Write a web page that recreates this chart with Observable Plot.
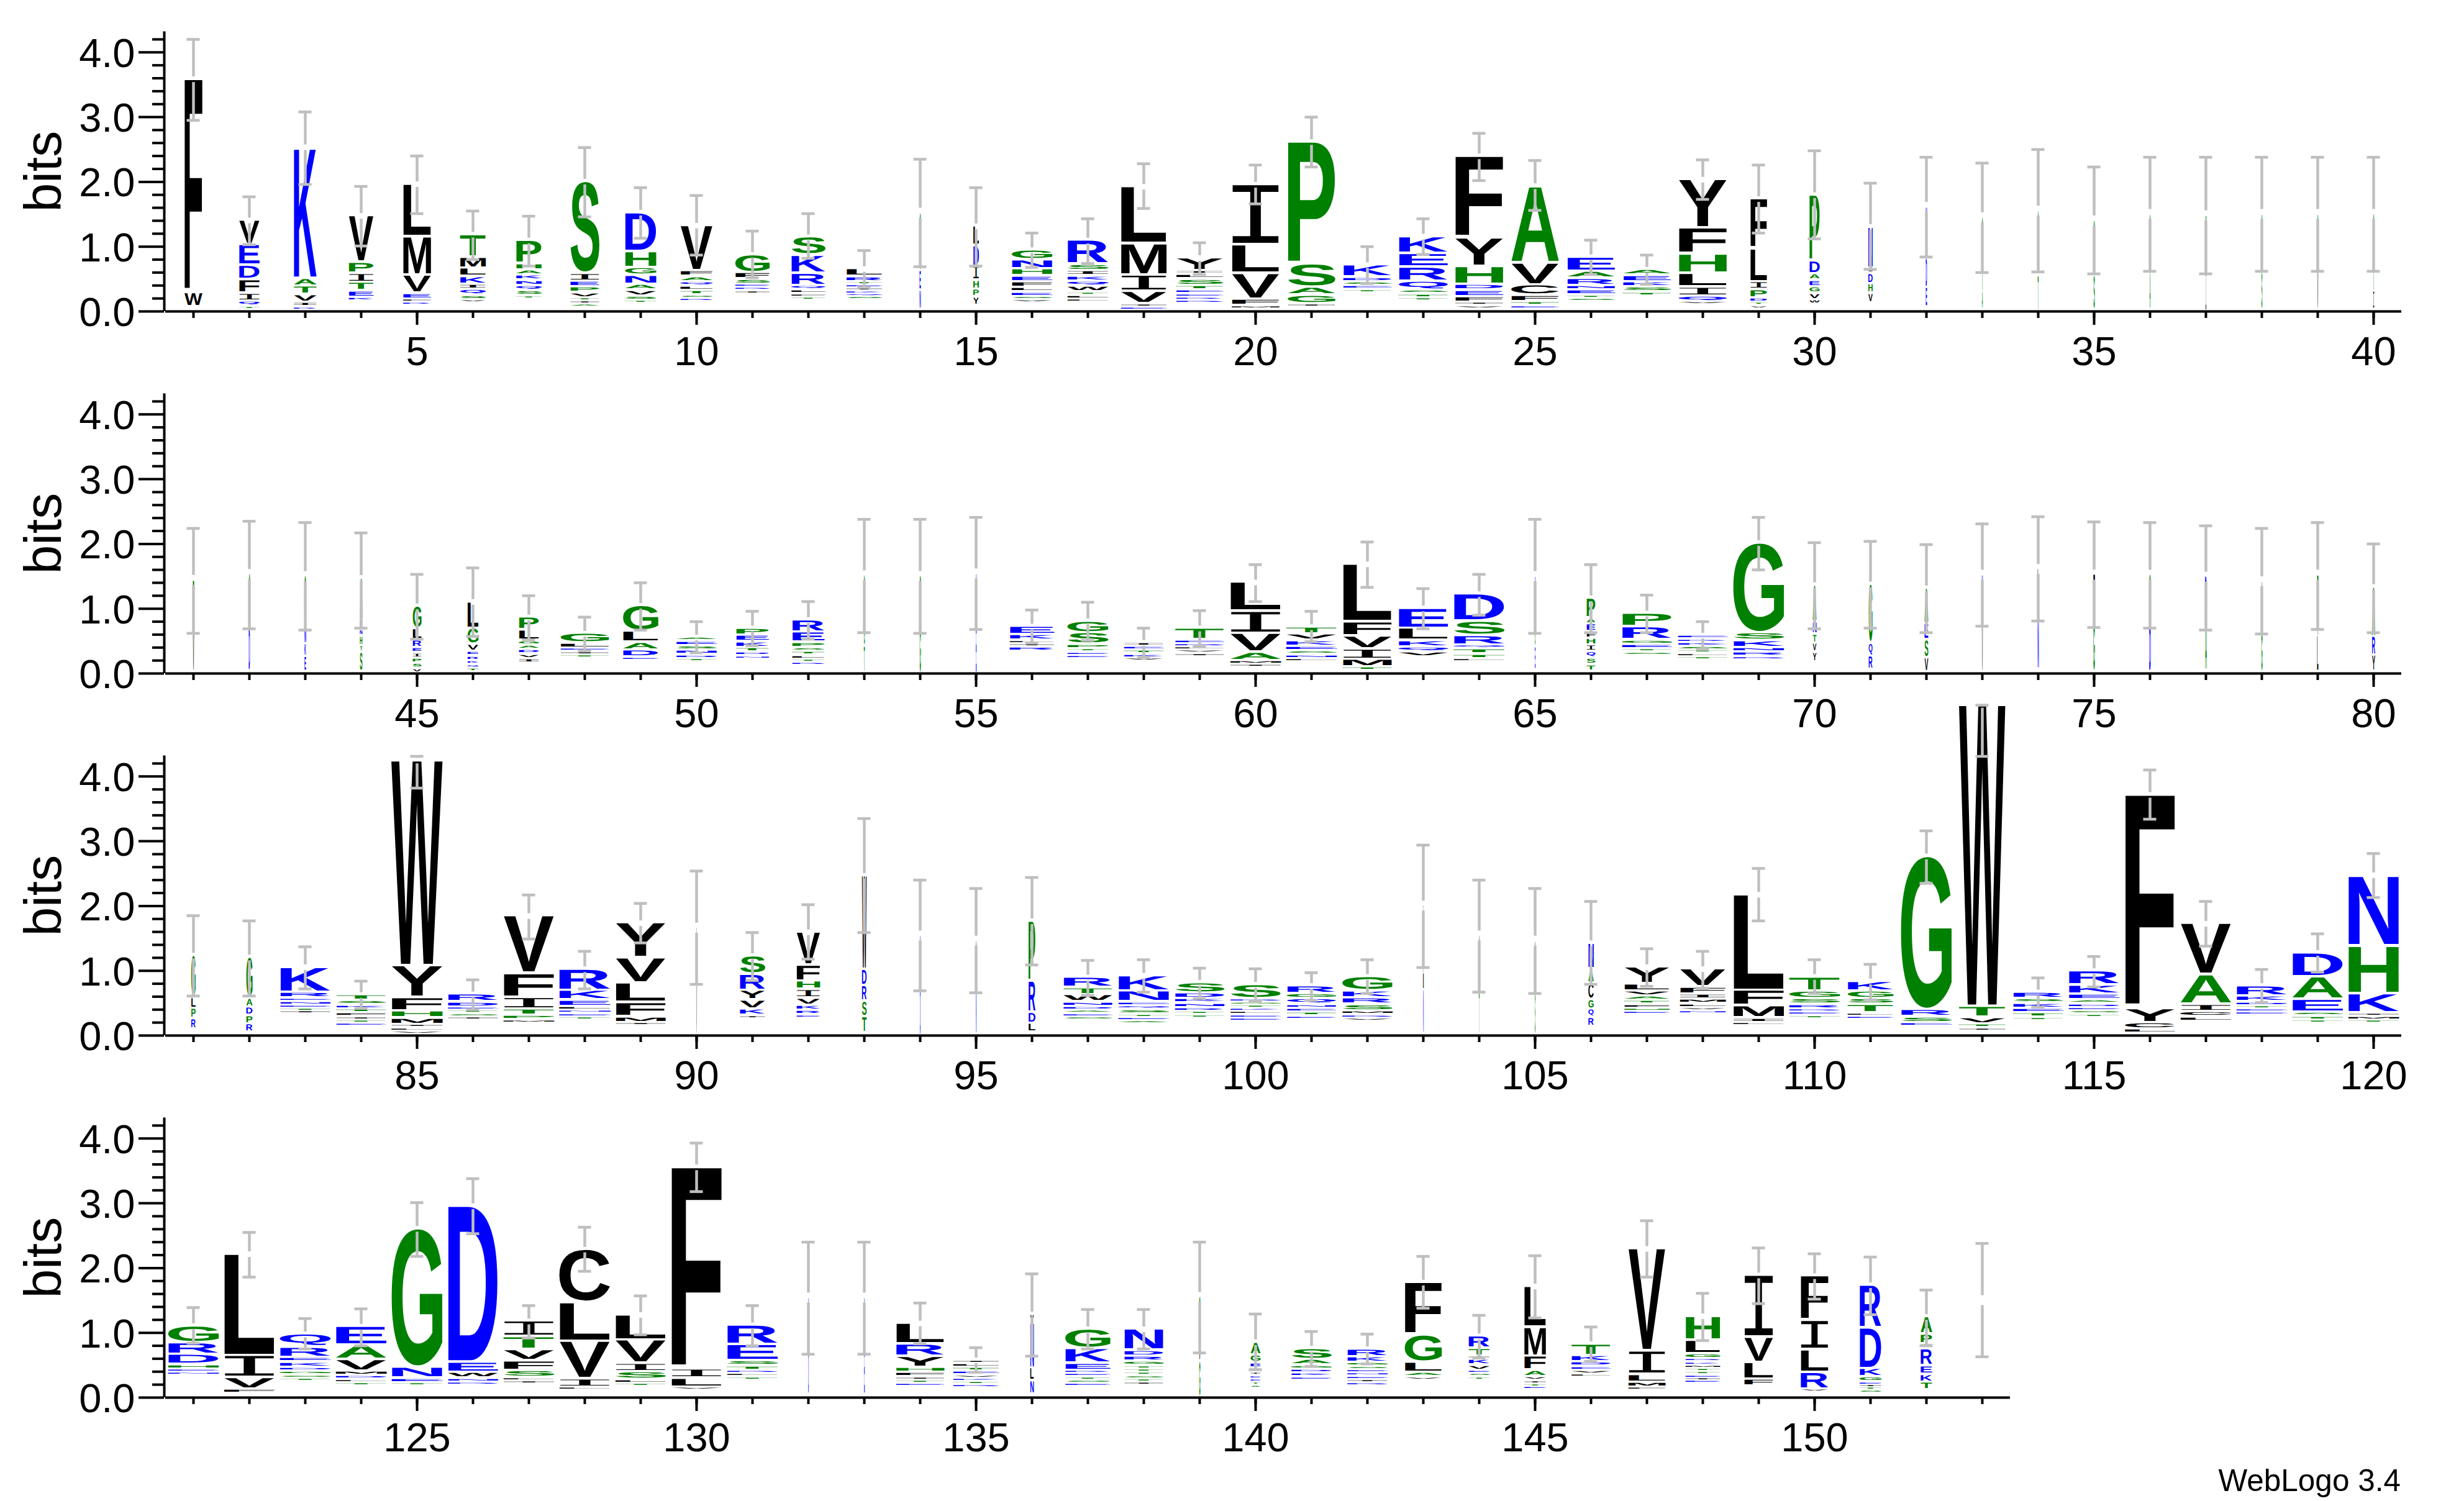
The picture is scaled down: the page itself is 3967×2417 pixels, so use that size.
<!DOCTYPE html>
<html>
<head>
<meta charset="utf-8">
<script src="https://cdn.jsdelivr.net/npm/d3@7"></script>
<script src="https://cdn.jsdelivr.net/npm/@observablehq/plot@0.6"></script>
<style>
html,body{margin:0;padding:0;background:#fff;}
#credit{font-family:"Liberation Sans";font-size:49.5px;line-height:60px;text-align:right;padding-right:102px;margin-top:22px;color:#000;}
</style>
</head>
<body>
<div id="chart"></div>
<div id="credit">WebLogo 3.4</div>
<script>
// letter stacks, top to bottom: letter + height in bits (positions 1 to 153)
const stackLetters = [
"F3.3 W.22","V.38 E.32 D.22 F.21 I.12 Q.08 T.04","K2.03 A.12 T.13 V.12 I.07 R.05","V.72 P.17 I.14 T.13 E.10 K.06","L.81 M.60 V.28 E.09 F.05 R.04",
"T.35 M.17 L.13 K.12 I.08 Q.09 S.07 V.04","P.36 H.10 A.08 K.08 N.08 Q.08 S.08 T.05","S1.42 I.12 E.09 P.09 V.08 T.05 I.04 A.04","D.60 H.25 G.12 N.14 A.09 V.09 S.07 T.05","V.70 F.09 A.08 Q.07 L.07 T.07 S.05 D.05",
"G.28 F.10 S.08 E.05 D.05 I.05","S.28 K.28 R.19 Q.07 L.06 F.05 T.04","L.12 R.08 T.05 E.05 I.04 K.04 Q.05 S.05","G.90 E.30 N.30","L.30 D.32 I.22 H.14 P.12 Y.13",
"G.15 N.14 H.11 E.09 F.09 L.07 E.07 S.05 V.05","R.37 S.10 I.08 K.08 Q.08 W.09 T.05 L.06 L.05","L.88 M.49 I.25 V.19 I.05 E.04","Y.20 I.06 L.07 S.10 T.07 E.06 E.05 R.05 D.05","I.93 L.44 V.40 F.10 M.05",
"P1.89 S.36 A.12 G.13 I.05","K.19 D.07 S.06 E.06 T.05","K.26 E.21 R.22 Q.14 S.06 T.06 T.05","F1.26 Y.44 H.28 D.09 E.10 F.09 I.05 V.04","A1.19 V.34 C.16 F.10 T.06 E.05",
"E.22 A.11 R.11 N.07 E.08 T.05 S.05","A.09 E.10 K.08 S.08 T.06","Y.75 F.40 H.30 L.21 I.14 Q.09 V.05","F.77 L.51 I.12 P.13 D.07 T.05 V.04","P1.02 D.20 A.10 E.10 G.10 V.10 W.07",
"N.64 I.08 D.16 H.15 V.15","N.80 D.45 E.30","G.80 T.35 A.28","G1.00 T.55","G.85 S.53",
"G.90 A.58","T.85 I.63","G.90 S.58","G.85 V.63","G.80 T.40 I.28",
// 41-80
"T.80 V.62","G.85 D.65","G.80 N.25 K.20 E.23","A.65 E.15 N.10 H.15 T.10 S.30","G.35 L.17 R.12 E.08 I.08 P.08 S.08 V.07",
"L.41 G.25 V.11 E.07 R.07 K.06 Q.06 T.06","P.20 L.16 G.07 A.07 D.07 V.07 I.07","G.15 L.08 E.05 I.05 T.05","G.40 L.17 A.12 D.11 E.05","A.06 E.07 S.07 N.07 D.06 T.05",
"P.11 E.10 K.09 T.07 D.06 N.05","R.19 E.16 P.08 S.06 T.06 L.06 T.05 D.05","S.70 G.40 T.40","S.80 G.70",
"N.80 E.74","E.13 K.09 L.05 I.05 R.07","G.18 S.18 P.07 T.05 E.05 E.05","I.06 E.06 T.06 K.06 V.05","T.18 E.06 D.05 L.05 V.05 I.05",
"L.45 I.34 V.29 A.13 M.06 I.05","T.11 V.10 K.09 E.07 S.06 N.06 L.05","L.89 F.22 V.20 I.16 M.12 T.06","E.31 L.19 K.10 Q.08 V.08","D.42 S.22 R.15 Q.06 T.08 T.07 L.05",
"N.70 G.40 E.35","P.31 A.09 E.12 F.10 H.11 I.10 Q.10 S.10 T.10","P.21 R.20 G.07 E.07 T.05 S.05","E.06 R.05 K.06 S.06 T.05 L.05 T.05","G1.39 S.12 K.11 N.07 R.07 D.05",
"A.57 N.19 T.14 V.14 Y.15","G.91 Q.20 R.21","A.55 E.25 S.28 V.22","N.75 V.75","L.80 N.75",
"I.75 G.75","G.80 D.70","D.75 A.70","A.80 G.60","T.95 L.55",
"A.77 R.29 Y.25",
// 81-120
"G.65 L.17 P.16 R.16","G.63 A.14 D.13 P.13 R.13","K.39 R.09 E.05 N.06 E.05 T.04 I.04","T.09 S.07 K.06 T.06 F.06 I.05 T.05 E.05","W3.17 Y.49 F.21 H.11 M.10 I.05 L.05 V.05",
"R.12 D.08 E.05 T.05 S.05 I.05","V.89 F.37 I.18 T.10 P.07 M.05","R.33 K.15 E.10 L.06 N.05 E.05 T.05","Y.54 V.39 L.30 F.22 M.09 I.05","L.90 V.75",
"S.28 R.25 Y.15 V.14 K.10 I.05","V.51 F.25 H.13 I.13 V.11 K.08 R.07 E.05","W1.45 D.25 R.24 S.24 T.25","N.80 D.74","G.70 N.75",
"P.93 R.48 D.17 L.14","R.16 T.11 W.11 N.07 D.06 A.05 E.05 S.05","K.24 N.17 E.06 Q.06 S.07 T.05 E.05 A.05","S.16 D.09 K.07 N.07 R.06 T.05 T.05","S.22 D.05 G.05 T.05 K.05 L.05 E.05 E.05",
"R.12 G.08 Q.09 N.06 E.06 T.06 E.05","G.22 K.11 R.10 S.10 M.06 D.05 V.05","L1.30 N.68","G.85 T.68","G.80 S.65",
"N.40 A.22 C.25 G.15 Q.13 R.14","Y.26 L.11 V.08 A.07 T.06 F.06 H.05 E.05","V.28 F.11 I.08 M.07 L.06 V.05 N.05","L1.48 F.24 M.19 I.07 L.05","T.22 G.12 S.09 R.07 D.05 E.05 T.04",
"K.15 G.12 S.09 T.13 L.05 E.05","G2.37 R.11 S.09 E.06","W4.66 T.17 V.10 T.06 I.05","R.10 S.07 K.08 E.07 T.07 T.05","R.22 K.14 E.09 A.06 D.06 E.05 S.05 T.05",
"F3.30 Y.22 C.10 L.07","V.79 A.46 I.11 C.08 L.07","R.16 K.09 D.06 T.05 E.05 E.05","D.37 A.35 E.20 S.06 T.06 T.05","N1.09 H.74 K.30 I.05 M.06 T.05",
// 121-153
"G.26 R.18 D.16 H.07 E.05 N.05","L1.57 I.34 V.18 F.07","Q.20 R.16 E.07 K.08 D.06 G.06 S.05 T.05","E.29 A.22 V.18 M.07 D.06 L.05 T.05","G2.14 N.17 E.07 T.05",
"D2.41 E.16 W.09 N.06 D.05","I.24 T.20 V.17 F.15 S.11 L.05 I.05","C.82 L.60 V.58 I.13 L.05","L.39 V.36 I.13 S.12 L.06 T.04","F3.12 I.14 L.14 V.05",
"R.30 E.25 S.08 T.07 D.05 L.05 T.05","N.80 D.70","N.80 E.70","L.32 R.19 Y.17 H.08 F.07 I.05 T.05 E.05","I.05 L.06 T.06 E.06 V.05 K.05 T.05 D.05",
"V.13 N.70 L.20 N.21","G.30 K.23 E.11 R.05 E.05 T.05 S.05 E.05","N.33 D.09 R.08 G.07 T.05 T.05 T.05 S.05 T.05 I.05","S.85 V.15 G.55","A.20 G.12 E.08 K.07 I.05 E.05 E.05 T.05 A.04",
"S.17 A.09 G.06 D.06 K.06 E.05","R.12 K.09 G.06 S.05 E.05 N.05 E.05 I.05 D.05","F.81 G.42 L.16 A.07 V.05","R.19 T.12 I.05 K.09 V.08 E.05 S.05 T.04","L.63 M.45 F.22 A.10 V.06 I.05 T.04 E.04",
"T.18 K.10 D.07 E.06 V.06 L.04","V1.58 I.36 L.12 M.08 F.05","H.37 L.21 G.08 D.05 K.05 M.05 T.05 T.05 E.04 I.04 E.04","I.955 V.39 L.26 F.11","F.69 I.45 L.35 R.26 V.05",
"R.66 D.63 K.13 G.08 E.04 I.04 T.04 S.03","A.27 P.15 T.08 R.26 E.13 K.12 T.12",""
];
// height of the whole stack, bits
const stackTops = [
3.58,1.40,2.53,1.47,1.96,1.18,1.09,2.00,1.52,1.32,.87,1.14,.65,1.52,1.31,.94,1.09,1.92,.82,1.95,2.61,.71,1.15,2.39,1.93,.83,.64,2.03,1.73,1.79,1.30,1.61,1.45,1.55,1.40,1.50,1.48,1.50,1.50,1.50,
1.44,1.53,1.50,1.47,1.03,1.10,.86,.61,1.04,.55,.69,.82,1.51,1.50,1.54,.72,.80,.47,.69,1.40,.71,1.68,1.00,1.22,1.50,1.156,.92,.58,2.01,1.36,1.37,1.31,1.52,1.61,1.52,1.52,1.49,1.42,1.52,1.33,
1.23,1.20,1.05,.62,4.24,.63,1.84,1.02,1.73,1.66,1.22,1.59,2.46,1.54,1.46,1.76,.89,.92,.81,.78,.76,.90,2.00,1.54,1.46,1.42,1.05,1.02,2.17,.90,.83,2.76,5.10,.66,.99,3.71,1.72,.76,1.27,2.47,
1.10,2.21,.97,1.09,2.60,2.95,1.17,2.28,1.27,3.55,1.11,1.54,1.54,1.14,.57,1.28,1.05,1.05,1.55,.85,.75,.74,1.77,.94,1.71,.82,2.29,1.25,1.88,1.87,1.73,1.24,1.50
];
// stack width
const stackWidths = [
29,33,37,40,45,41.5,41,47,50.6,52,55.6,55,58,2,9,65.5,66,74,75.5,77,77,78,79,78,77,77,77,78,27,16.5,7,2,1.5,1.3,2,1.5,1,1.5,1.5,1.5,
2,2,2.5,4,14,17.5,32,78,57,65,53,52,1.5,2,1,72,66,64,79,82,82,79,80,82,1,14,80,80,82,6,6,6,1.5,2,2.5,2.5,2.5,2,2,5,
7,10,81,80,83,81,82,83,81,1,41,38,7.5,1,1,11,79,82,80,81,79,81,1,1,1,8.5,73,74,82,82,74,82,75,81,82,81,82,82,82,82,
82,82,82,82,82,81,82,82,82,82,82,1,1,78,74,5.6,73,63,2,16,65,65,60,34,35,63,60,56,47,45,35,18.5,0.01
];
const errHigh = [
4.20,1.77,3.08,1.93,2.40,1.55,1.47,2.53,1.91,1.79,1.24,1.51,.94,2.35,1.91,1.21,1.43,2.28,1.06,2.26,3.00,1.00,1.43,2.75,2.33,1.10,.87,2.34,2.26,2.48,1.98,2.38,2.29,2.50,2.23,2.38,2.38,2.38,2.38,2.38,
2.24,2.35,2.33,2.17,1.53,1.63,1.20,.87,1.40,.80,.96,1.11,2.38,2.38,2.41,.98,1.10,.70,.97,1.68,.96,2.03,1.31,1.53,2.38,1.68,1.21,.80,2.41,2.02,2.04,1.99,2.31,2.42,2.34,2.33,2.28,2.24,2.33,2.00,
1.85,1.77,1.37,.84,4.31,.86,2.17,1.30,2.04,2.54,1.59,2.02,3.35,2.40,2.27,2.44,1.16,1.17,1.04,1.03,.97,1.17,2.94,2.40,2.27,2.07,1.34,1.30,2.58,1.17,1.10,3.16,5.10,.89,1.22,4.10,2.07,1.02,1.57,2.81,
1.39,2.55,1.22,1.37,3.01,3.38,1.42,2.63,1.57,3.93,1.42,2.40,2.40,1.46,.77,1.91,1.36,1.36,2.40,1.29,1.02,.98,2.18,1.27,2.19,1.09,2.73,1.61,2.31,2.22,2.17,1.66,2.38
];
const errLow = [
2.95,1.03,1.96,1.01,1.51,.80,.70,1.46,1.13,.87,.52,.82,.37,.69,.70,.68,.74,1.59,.57,1.66,2.23,.43,.88,2.02,1.56,.57,.42,1.73,1.21,1.12,.65,.84,.60,.61,.58,.62,.58,.62,.62,.62,
.62,.69,.67,.70,.53,.57,.52,.35,.67,.32,.43,.53,.63,.62,.68,.47,.51,.25,.42,1.11,.49,1.33,.69,.90,.62,.63,.63,.37,1.60,.69,.70,.63,.73,.81,.71,.70,.67,.61,.68,.63,
.61,.61,.72,.42,3.82,.40,1.49,.72,1.43,.79,.85,1.18,1.59,.69,.66,1.09,.62,.67,.57,.53,.54,.65,1.05,.67,.65,.79,.76,.73,1.77,.65,.55,2.35,4.31,.44,.75,3.34,1.38,.51,.98,2.13,
.84,1.86,.75,.80,2.18,2.53,.92,1.95,.97,3.18,.80,.67,.67,.83,.39,.64,.75,.75,.69,.43,.48,.52,1.38,.61,1.23,.56,1.86,.88,1.45,1.52,1.28,.80,.63
];
const residues = ["G","S","T","P","A","H","D","E","K","R","N","Q","F","L","I","M","V","Y","W","C"];
const residueColors = ["#008000","#008000","#008000","#008000","#008000","#008000","#0000ff","#0000ff","#0000ff","#0000ff","#0000ff","#0000ff","#000","#000","#000","#000","#000","#000","#000","#000"];
const rowFirst = [1,41,81,121];
const rowLast = [40,80,120,153];
const majorBits = [0,1,2,3,4];
const minorBits = [.2,.4,.6,.8,1.2,1.4,1.6,1.8,2.2,2.4,2.6,2.8,3.2,3.4,3.6,3.8,4.2];

const MAXBITS = 4.32, PXPERBIT = 104.3, LETTERGAP = 4;
const mono = '"Liberation Mono"', sans = '"Liberation Sans"';
const ctx = document.createElement("canvas").getContext("2d");
const metrics = {};
function inkBox(letter){
  if(metrics[letter]) return metrics[letter];
  ctx.font = letter === "I" ? `100px ${mono}` : `bold 100px ${sans}`;
  const m = ctx.measureText(letter);
  return metrics[letter] = {l:m.actualBoundingBoxLeft, r:m.actualBoundingBoxRight, a:m.actualBoundingBoxAscent, d:m.actualBoundingBoxDescent};
}
function stretchLetters(rows){
  return function(index, scales, values, dimensions, context, next){
    const g = next(index, scales, values, dimensions, context);
    const texts = g.querySelectorAll("text");
    texts.forEach((t, k) => {
      const d = rows[index[k]];
      const m = inkBox(d.letter);
      const cx = scales.x(d.pos);
      const yTop = scales.y(d.top), yBase = scales.y(d.top - d.h);
      const hPx = Math.max(yBase - yTop - LETTERGAP, 1.5);
      const W = m.l + m.r, H = m.a + m.d;
      const sx = d.w / W, sy = hPx / H;
      t.removeAttribute("dy");
      t.setAttribute("x", 0); t.setAttribute("y", 0);
      t.setAttribute("text-anchor", "start");
      t.setAttribute("text-rendering", "geometricPrecision");
      t.setAttribute("font-family", d.letter === "I" ? mono : sans);
      t.setAttribute("font-weight", d.letter === "I" ? "normal" : "bold");
      if(hPx < 5 || d.w < 6){
        t.setAttribute("stroke", residueColors[residues.indexOf(d.letter)]);
        t.setAttribute("stroke-width", 0.7);
        t.setAttribute("vector-effect", "non-scaling-stroke");
      }
      t.setAttribute("transform", `translate(${cx},${yTop + hPx}) scale(${sx},${sy}) translate(${-(m.r - m.l)/2},${-m.d})`);
    });
    return g;
  };
}

function buildRow(r){
  const first = rowFirst[r], last = rowLast[r];
  const positions = d3.range(first, last + 1);
  const letters = [], bars = [];
  for(const p of positions){
    const i = p - 1;
    let top = stackTops[i];
    for(const [, l, h] of stackLetters[i].matchAll(/([A-Z])([\d.]+)/g)){
      letters.push({pos:p, letter:l, top, h:+h, w:stackWidths[i]});
      top -= +h;
    }
    const gap = (stackWidths[i] < 4 ? 8 : 4.5) / PXPERBIT;
    bars.push({pos:p, hi:errHigh[i], lo:errLow[i], upper:stackTops[i] + gap, lower:stackTops[i] - gap});
  }
  const major = positions.filter(p => p % 5 === 0);
  const axisFont = {fontSize:65, fontFamily:sans};
  return Plot.plot({
    width:3967, height:583,
    marginLeft:266, marginRight:101, marginTop:50.4, marginBottom:82,
    style:{background:"transparent", overflow:"visible", fontFamily:"Liberation Sans", display:"block", maxWidth:"none"},
    x:{domain:[first - .5, first + 39.5], label:null},
    y:{domain:[0, MAXBITS], label:null},
    color:{type:"ordinal", domain:residues, range:residueColors},
    marks:[
      Plot.text(letters, {x:"pos", y:"top", text:"letter", fill:"letter", fontSize:100, fontWeight:"bold", render:stretchLetters(letters)}),
      Plot.ruleY([0], {x1:first - .5, x2:last + .5, stroke:"#000", strokeWidth:4}),
      Plot.ruleX([first - .5], {y1:0, y2:MAXBITS, stroke:"#000", strokeWidth:4, dx:-2}),
      Plot.axisY(majorBits, {anchor:"left", tickSize:41, strokeWidth:4, dx:-2, text:null, label:null}),
      Plot.axisY(majorBits, {anchor:"left", tickSize:0, tickPadding:47, dy:2.5, dx:-2, tickFormat:d3.format(".1f"), label:null, ...axisFont}),
      Plot.axisY(minorBits, {anchor:"left", tickSize:19, strokeWidth:4, dx:-2, text:null, label:null}),
      Plot.axisX(major, {anchor:"bottom", tickSize:22, tickPadding:18, strokeWidth:4, tickFormat:d => String(d), label:null, ...axisFont}),
      Plot.axisX(positions, {anchor:"bottom", tickSize:11, strokeWidth:4, text:null, label:null}),
      Plot.text(["bits"], {frameAnchor:"left", textAnchor:"middle", rotate:-90, dx:-195, fontSize:84, fontFamily:sans, fill:"#000", text:d => d}),
      Plot.ruleX(bars, {x:"pos", y1:"upper", y2:"hi", stroke:"#bfbfbf", strokeWidth:4.5, filter:d => d.hi > d.upper}),
      Plot.ruleX(bars, {x:"pos", y1:"lo", y2:"lower", stroke:"#bfbfbf", strokeWidth:4.5, filter:d => d.lower > d.lo}),
      Plot.ruleY(bars, {y:"hi", x1:d => d.pos - .117, x2:d => d.pos + .117, stroke:"#bfbfbf", strokeWidth:4.5}),
      Plot.ruleY(bars, {y:"lo", x1:d => d.pos - .117, x2:d => d.pos + .117, stroke:"#bfbfbf", strokeWidth:4.5})
    ]
  });
}
const host = document.getElementById("chart");
rowFirst.forEach((_, r) => host.appendChild(buildRow(r)));
</script>
</body>
</html>
